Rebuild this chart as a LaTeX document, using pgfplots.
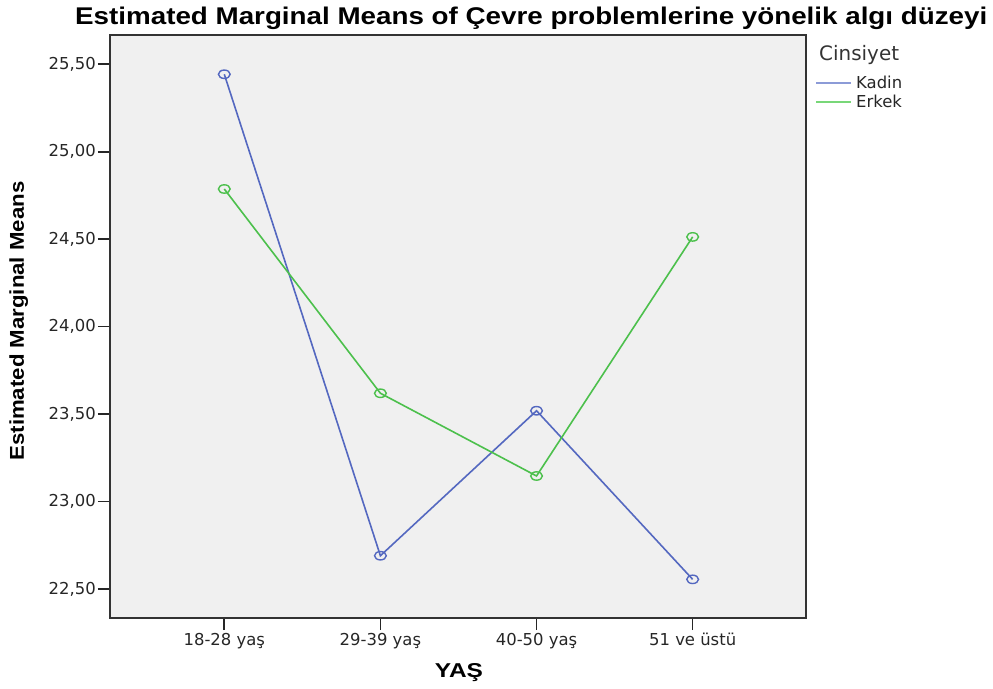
\documentclass[border=0pt]{standalone}
\usepackage{pgfplots}
\pgfplotsset{compat=1.18}
\usepackage{fontspec}
\setmainfont{DejaVu Sans}
\newfontfamily\lib{Liberation Sans}
\definecolor{kadin}{RGB}{84,104,192}
\definecolor{erkek}{RGB}{76,192,76}
\definecolor{kadinleg}{RGB}{140,155,215}
\definecolor{erkekleg}{RGB}{120,215,120}
\definecolor{plotbg}{RGB}{240,240,240}
\begin{document}
\begin{tikzpicture}
\path[use as bounding box] (0,0) rectangle (993bp,689bp);
\begin{axis}[
  at={(110bp,71bp)}, anchor=south west,
  scale only axis, width=696bp, height=583bp,
  xmin=-0.732, xmax=3.726,
  ymin=22.334, ymax=25.6675,
  axis background/.style={fill=plotbg},
  axis line style={line width=1.5bp, black!80},
  tick align=outside, tick pos=left,
  major tick length=12bp,
  major tick style={line width=1.6bp, black!85},
  xtick={0,1,2,3},
  xticklabels={18-28 yaş, 29-39 yaş, 40-50 yaş, 51 ve üstü},
  ytick={22.5,23,23.5,24,24.5,25,25.5},
  /pgf/number format/use comma,
  /pgf/number format/fixed,
  /pgf/number format/fixed zerofill,
  /pgf/number format/precision=2,
  /pgf/number format/assume math mode=true,
  ticklabel style={font=\fontsize{16.5}{19}\selectfont, text=black!85},
  yticklabel style={anchor=east, inner sep=0pt, xshift=-2bp},
  xticklabel style={anchor=north, inner sep=0pt, yshift=-3bp},
  xlabel={\resizebox{48bp}{14bp}{\lib\bfseries YAŞ}},
  xlabel style={at={(axis description cs:0.5014,-0.1029)}, anchor=base, inner sep=0pt},
  ylabel={\resizebox{279bp}{14.5bp}{\lib\bfseries Estimated Marginal Means}},
  ylabel style={at={(axis description cs:-0.1236,0.5094)}, anchor=base, inner sep=0pt},
  legend style={at={(axis description cs:1.0129,0.9297)}, anchor=north west, draw=none, fill=none,
    inner sep=0pt, outer sep=0pt, row sep=0pt, column sep=4bp,
    font=\fontsize{16.5}{19}\selectfont, text=black!85,
    nodes={inner sep=0pt, text height=13bp, text depth=6bp}},
  legend cell align=left,
  clip=false,
]
\addlegendimage{legend image code/.code={\draw[kadinleg, line width=2.2bp] (0bp,2.5bp) -- (35bp,2.5bp);}}
\addlegendentry{Kadin}
\addlegendimage{legend image code/.code={\draw[erkekleg, line width=2.2bp] (0bp,2.5bp) -- (35bp,2.5bp);}}
\addlegendentry{Erkek}
\addplot[forget plot, color=kadin, line width=1.6bp, mark=o, mark size=4.2bp, mark options={solid, xscale=1.4, line width=1.4bp}]
  coordinates {(0,25.443) (1,22.690) (2,23.519) (3,22.555)};
\addplot[forget plot, color=erkek, line width=1.6bp, mark=o, mark size=4.2bp, mark options={solid, xscale=1.4, line width=1.4bp}]
  coordinates {(0,24.787) (1,23.619) (2,23.146) (3,24.513)};
\node[anchor=base west, inner sep=0pt, font=\fontsize{20}{24}\selectfont, text=black!80]
  at (axis description cs:1.0187,0.9554) {Cinsiyet};
\end{axis}
\node[anchor=base west, inner sep=0pt] at (75bp,664bp)
  {\resizebox{912bp}{17.5bp}{\lib\bfseries Estimated Marginal Means of Çevre problemlerine yönelik algı düzeyi}};
\end{tikzpicture}
\end{document}
